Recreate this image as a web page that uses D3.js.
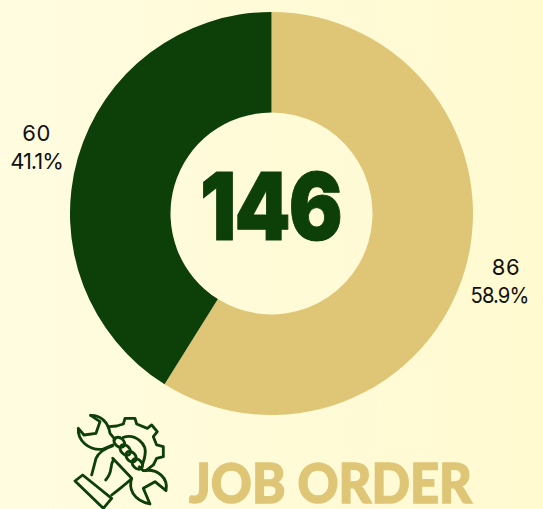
<!DOCTYPE html>
<html><head><meta charset="utf-8">
<script src="https://cdn.jsdelivr.net/npm/d3@7/dist/d3.min.js"></script>
<style>html,body{margin:0;padding:0;background:#fffad8}svg{display:block}</style>
</head><body><svg id="c" width="543" height="509"></svg>
<script>
const categories = ["Open", "Closed"];
const values = [86, 60];
const percents = ["58.9%", "41.1%"];
const colors = ["#dfc677", "#0d3f08"];
const total = "146";
const title = "JOB ORDER";

const svg = d3.select("#c");
const grad = svg.append("defs").append("linearGradient").attr("id","bg");
grad.append("stop").attr("offset","0").attr("stop-color","#fffce0");
grad.append("stop").attr("offset","1").attr("stop-color","#fffad0");
svg.append("rect").attr("width",543).attr("height",509).attr("fill","url(#bg)");

const cx = 271.5, cy = 213.5, R = 201.5, r = 101;
const pie = d3.pie().sort(null).value(d => d)(values);
const arc = d3.arc().innerRadius(r).outerRadius(R);
const g = svg.append("g").attr("transform",`translate(${cx},${cy})`);
g.selectAll("path").data(pie).join("path").attr("d",arc).attr("fill",(d,i)=>colors[i]);

const labelFont = "Inter, 'Noto Sans', sans-serif";
const labelPos = [[506,275,499.5,"0.92"],[36.5,141,36.5,"1"]];
labelPos.forEach((p,i)=>{
  const t = svg.append("g").attr("font-family",labelFont).attr("font-size",22).attr("fill","#111").attr("text-anchor","middle");
  t.append("text").attr("x",p[0]).attr("y",p[1]).attr("letter-spacing",0.5).text(values[i]);
  t.append("text").attr("transform",`translate(${p[2]},${p[1]+28}) scale(${p[3]},1)`).attr("letter-spacing",-1).text(percents[i]);
});

svg.append("text").attr("transform","translate(270.5,240) scale(0.86,1)").attr("text-anchor","middle")
  .attr("font-family","Inter, sans-serif").attr("font-weight",900).attr("font-size",93)
  .attr("fill",colors[1]).attr("stroke",colors[1]).attr("stroke-width",1)
  .attr("letter-spacing",-2).text(total);

svg.append("text").attr("x",189).attr("y",503)
  .attr("font-family","Lato, sans-serif").attr("font-weight",900).attr("font-size",55)
  .attr("fill",colors[0]).attr("stroke",colors[0]).attr("stroke-width",1.4)
  .attr("textLength",283).attr("lengthAdjust","spacingAndGlyphs").text(title);

// icon, traced in a 3x grid
const icon = svg.append("g").attr("transform","translate(60,400) scale(0.3333)")
  .attr("fill","none").attr("stroke",colors[1]).attr("stroke-width",8.5)
  .attr("stroke-linejoin","round").attr("stroke-linecap","round");
[
 "M92,46 C120,45 145,65 150,100 L165,118",
 "M92,46 L120,65 L108,100 L72,105 L55,85 C52,120 85,152 128,148 L158,135",
 "M158,175 L215,235 C205,265 218,300 270,312 L250,265 L285,245 L318,272 C325,235 295,205 250,212 L238,200",
 "M148,80 L170,78 L190,72 L195,55 L225,55 L230,72 L262,85 L275,75 L292,95 L280,110 L290,135 L310,140 L310,170 L290,175 L280,195 L258,212",
 "M190,112 C225,100 262,130 255,165 C254,175 250,185 247,195",
 "M158,138 C135,145 115,160 108,175 L95,225",
 "M45,243 L68,225 L155,295 L130,325 Z",
 "M155,285 C180,265 195,255 213,238",
 "M160,180 C148,200 160,215 137,240"
].forEach(d=>icon.append("path").attr("d",d));
[[178,127,40],[196,150,45],[213,170,45],[232,192,45]].forEach(k=>{
  icon.append("ellipse").attr("cx",k[0]).attr("cy",k[1]).attr("rx",18).attr("ry",13)
    .attr("transform",`rotate(${k[2]} ${k[0]} ${k[1]})`);
});
</script></body></html>
